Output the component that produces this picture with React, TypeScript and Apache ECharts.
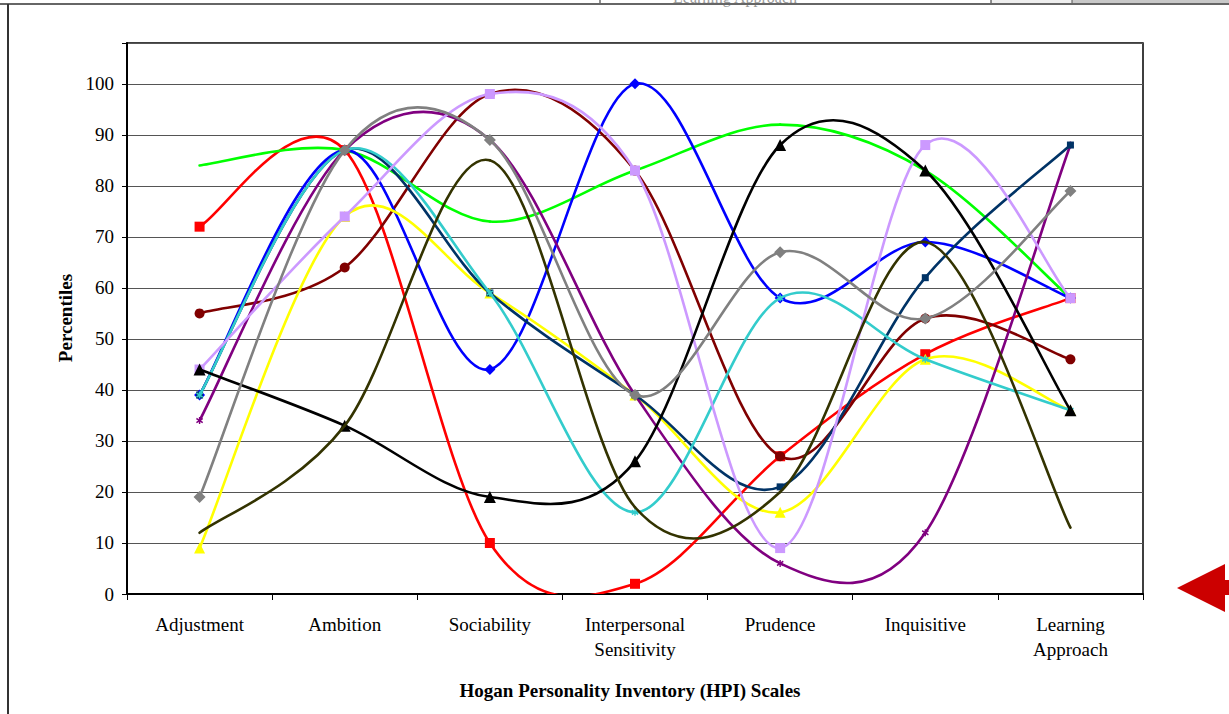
import React, { useEffect, useRef } from "react";
import * as echarts from "echarts";

const categories = [
  "Adjustment",
  "Ambition",
  "Sociability",
  "Interpersonal\nSensitivity",
  "Prudence",
  "Inquisitive",
  "Learning\nApproach",
];

const redValues = [72, 87, 10, 2, 27, 47, 58];
const maroonValues = [55, 64, 98, 83, 27, 54, 46];
const greenValues = [84, 87, 73, 83, 92, 83, 58];
const blueValues = [39, 87, 44, 100, 58, 69, 58];
const yellowValues = [9, 74, 59, 39, 16, 46, 36];
const purpleValues = [34, 87, 89, 39, 6, 12, 88];
const navyValues = [39, 87, 59, 39, 21, 62, 88];
const cyanValues = [39, 87, 59, 16, 58, 46, 36];
const lavenderValues = [44, 74, 98, 83, 9, 88, 58];
const blackValues = [44, 33, 19, 26, 88, 83, 36];
const oliveValues = [12, 33, 85, 17, 20, 69, 13];
const grayValues = [19, 87, 89, 39, 67, 54, 79];

const yTicks = [0, 10, 20, 30, 40, 50, 60, 70, 80, 90, 100];

const FONT = "'Liberation Serif', 'Times New Roman', serif";
const STAR =
  "path://M4,0 L6,0 L6,3 L9,1 L10,3 L7,5 L10,7 L9,9 L6,7 L6,10 L4,10 L4,7 L1,9 L0,7 L3,5 L0,3 L1,1 L4,3 Z";

const seriesDefs = [
  { name: "S1", data: redValues, color: "#FF0000", symbol: "rect", size: 10 },
  { name: "S2", data: maroonValues, color: "#800000", symbol: "circle", size: 10 },
  { name: "S3", data: greenValues, color: "#00FF00", symbol: "none", size: 0 },
  { name: "S4", data: blueValues, color: "#0000FF", symbol: "diamond", size: 11 },
  { name: "S5", data: yellowValues, color: "#FFFF00", symbol: "triangle", size: 11 },
  { name: "S6", data: purpleValues, color: "#800080", symbol: STAR, size: 7 },
  { name: "S7", data: navyValues, color: "#003366", symbol: "rect", size: 7 },
  { name: "S8", data: cyanValues, color: "#33CCCC", symbol: STAR, size: 7 },
  { name: "S9", data: lavenderValues, color: "#CC99FF", symbol: "rect", size: 10 },
  { name: "S10", data: blackValues, color: "#000000", symbol: "triangle", size: 12 },
  { name: "S11", data: oliveValues, color: "#333300", symbol: "none", size: 0 },
  { name: "S12", data: grayValues, color: "#808080", symbol: "diamond", size: 12 },
];

function makeCurveSeries(def: (typeof seriesDefs)[number], order: number) {
  const vals = def.data;
  const n = vals.length;
  return {
    name: def.name,
    type: "custom",
    coordinateSystem: "cartesian2d",
    data: vals.map((v, i) => [i, v]),
    encode: { x: 0, y: 1 },
    silent: true,
    clip: true,
    z: 2 + order * 2,
    renderItem: (params: any, api: any) => {
      const i = params.dataIndex;
      if (i >= n - 1) return null;
      const i0 = Math.max(0, i - 1);
      const i3 = Math.min(n - 1, i + 2);
      const p0 = api.coord([i0, vals[i0]]);
      const p1 = api.coord([i, vals[i]]);
      const p2 = api.coord([i + 1, vals[i + 1]]);
      const p3 = api.coord([i3, vals[i3]]);
      const k = 1 / 6;
      return {
        type: "bezierCurve",
        shape: {
          x1: p1[0],
          y1: p1[1],
          x2: p2[0],
          y2: p2[1],
          cpx1: p1[0] + (p2[0] - p0[0]) * k,
          cpy1: p1[1] + (p2[1] - p0[1]) * k,
          cpx2: p2[0] - (p3[0] - p1[0]) * k,
          cpy2: p2[1] - (p3[1] - p1[1]) * k,
        },
        style: { stroke: def.color, lineWidth: 2.6, fill: null, lineCap: "round" },
      };
    },
  };
}

function makeMarkerSeries(def: (typeof seriesDefs)[number], order: number) {
  return {
    name: def.name + "m",
    type: "scatter",
    data: def.data.map((v, i) => [i, v]),
    symbol: def.symbol,
    symbolSize: def.size,
    silent: true,
    z: 3 + order * 2,
    itemStyle: { color: def.color, borderWidth: 0, opacity: 1 },
    emphasis: { disabled: true },
  };
}

export default function App() {
  const ref = useRef<HTMLDivElement>(null);

  useEffect(() => {
    if (!ref.current) return;
    const chart = echarts.init(ref.current, undefined, { renderer: "svg" });
    const series: any[] = [];
    seriesDefs.forEach((d, i) => {
      series.push(makeCurveSeries(d, i));
      if (d.symbol !== "none") series.push(makeMarkerSeries(d, i));
    });
    const option: any = {
      animation: false,
      backgroundColor: "#ffffff",
      grid: {
        left: 127,
        top: 43,
        right: 86,
        bottom: 120,
        show: true,
        borderColor: "#000",
        borderWidth: 1.5,
        backgroundColor: "transparent",
      },
      xAxis: {
        type: "category",
        data: categories,
        boundaryGap: true,
        axisLine: { show: true, lineStyle: { color: "#000", width: 2 } },
        axisTick: { show: true, length: 6, lineStyle: { color: "#000", width: 1 } },
        axisLabel: {
          interval: 0,
          fontFamily: FONT,
          fontSize: 19,
          color: "#000",
          lineHeight: 25,
          margin: 18,
        },
        splitLine: { show: false },
      },
      yAxis: {
        type: "value",
        min: 0,
        max: 108,
        interval: 10,
        axisLine: { show: true, lineStyle: { color: "#000", width: 2 } },
        axisTick: { show: true, length: 5, lineStyle: { color: "#000", width: 1 } },
        axisLabel: {
          fontFamily: FONT,
          fontSize: 19,
          color: "#000",
          margin: 13,
          formatter: (v: number) => (yTicks.indexOf(v) >= 0 ? String(v) : ""),
        },
        splitLine: { show: true, lineStyle: { color: "#555", width: 1 } },
      },
      series,
      graphic: [
        { type: "rect", shape: { x: 0, y: 0, width: 1229, height: 4 }, style: { fill: "#fff" }, z: 100 },
        { type: "rect", shape: { x: 991, y: 0, width: 81, height: 4 }, style: { fill: "#eeeeee" }, z: 101 },
        { type: "rect", shape: { x: 1072, y: 0, width: 157, height: 4 }, style: { fill: "#c8c8c8" }, z: 101 },
        {
          type: "text",
          x: 735,
          y: 5,
          style: {
            text: "Learning Approach",
            fontFamily: FONT,
            fontSize: 16,
            fill: "#9a9a9a",
            align: "center",
            verticalAlign: "bottom",
          },
          z: 102,
        },
        { type: "line", shape: { x1: 600, y1: 0, x2: 600, y2: 4 }, style: { stroke: "#222", lineWidth: 1 }, z: 103 },
        { type: "line", shape: { x1: 991, y1: 0, x2: 991, y2: 4 }, style: { stroke: "#222", lineWidth: 1 }, z: 103 },
        { type: "line", shape: { x1: 1072, y1: 0, x2: 1072, y2: 4 }, style: { stroke: "#555", lineWidth: 1 }, z: 103 },
        { type: "rect", shape: { x: 0, y: 3, width: 1229, height: 2 }, style: { fill: "#666" }, z: 104 },
        { type: "rect", shape: { x: 7, y: 4, width: 2, height: 710 }, style: { fill: "#333" }, z: 104 },
        {
          type: "polygon",
          shape: { points: [[1177, 588], [1225, 564], [1225, 612]] },
          style: { fill: "#CC0000" },
          z: 104,
        },
        { type: "rect", shape: { x: 1224, y: 580, width: 5, height: 15 }, style: { fill: "#CC0000" }, z: 104 },
        {
          type: "text",
          x: 65,
          y: 318,
          rotation: Math.PI / 2,
          style: {
            text: "Percentiles",
            fontFamily: FONT,
            fontSize: 19,
            fontWeight: "bold",
            fill: "#000",
            align: "center",
            verticalAlign: "middle",
          },
          z: 104,
        },
        {
          type: "text",
          x: 630,
          y: 690,
          style: {
            text: "Hogan Personality Inventory (HPI) Scales",
            fontFamily: FONT,
            fontSize: 19,
            fontWeight: "bold",
            fill: "#000",
            align: "center",
            verticalAlign: "middle",
          },
          z: 104,
        },
      ],
    };
    chart.setOption(option);
    return () => chart.dispose();
  }, []);

  return (
    <div
      ref={ref}
      style={{ position: "absolute", left: 0, top: 0, width: 1229, height: 714, background: "#fff" }}
    />
  );
}
